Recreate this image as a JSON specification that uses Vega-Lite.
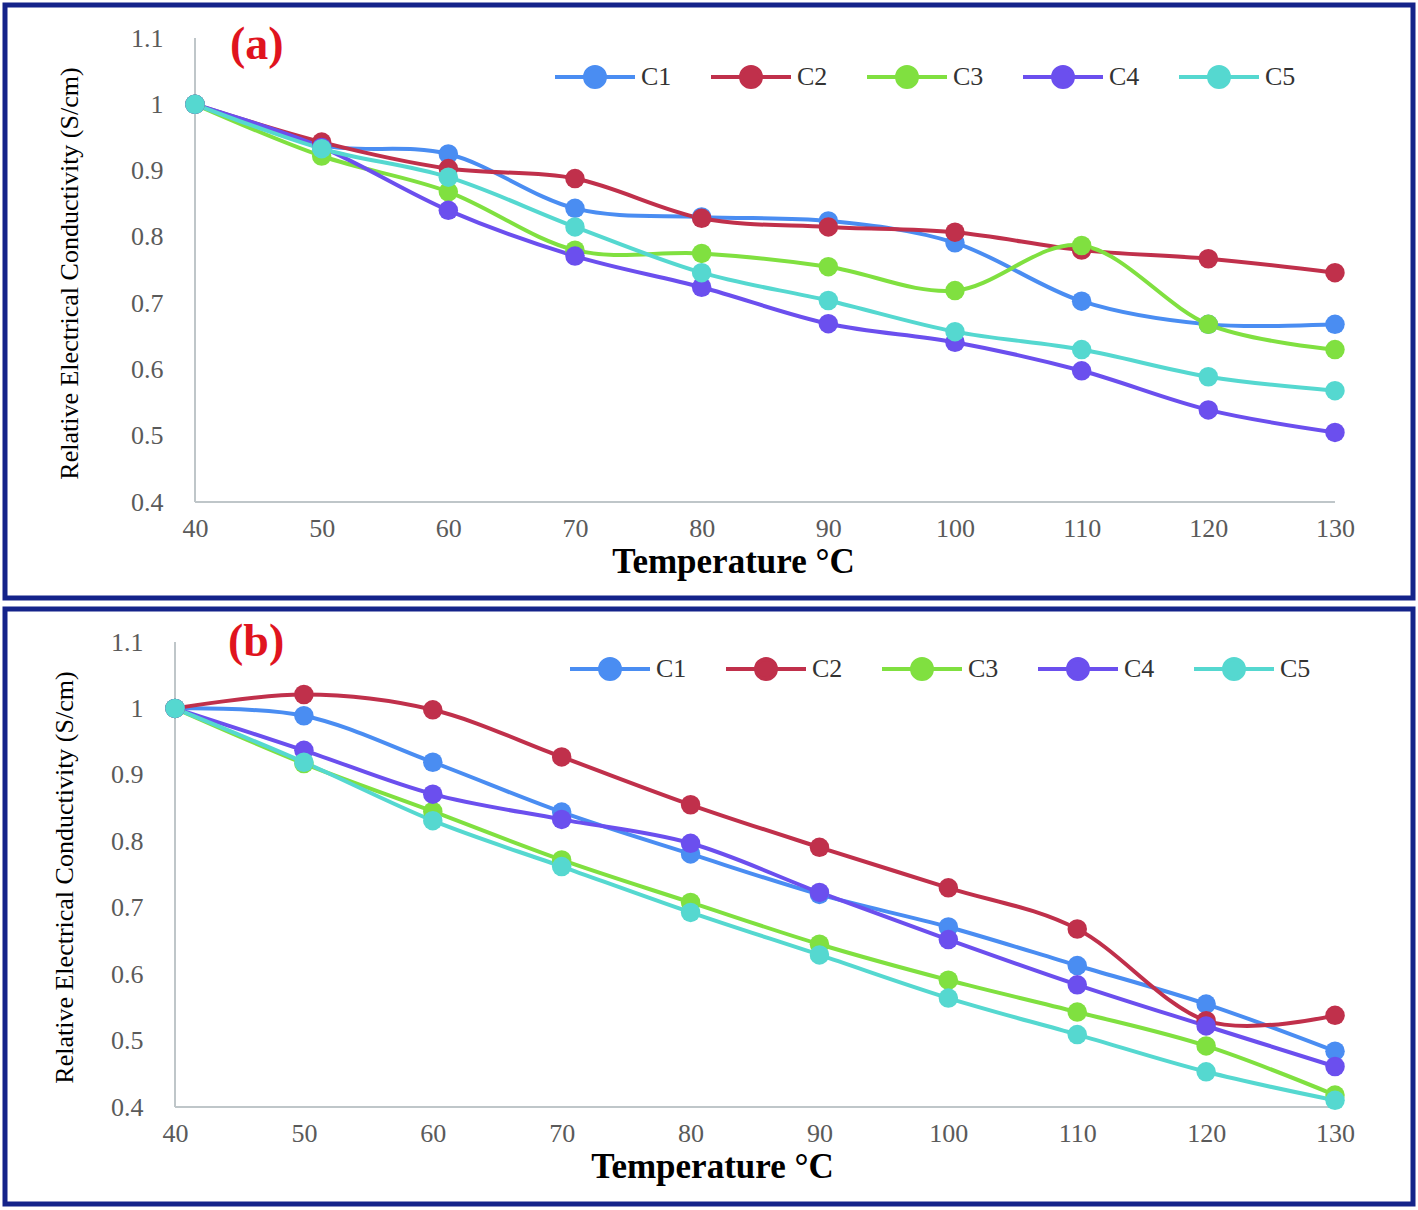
{
  "$schema": "https://vega.github.io/schema/vega-lite/v6.json",
  "background": "white",
  "padding": {"left": 2, "top": 2, "right": 2, "bottom": 2},
  "spacing": 5,
  "datasets": {
    "frame": [
      {"T": 40, "T2": 40, "value": 0.4, "value2": 1.1},
      {"T": 40, "T2": 130, "value": 0.4, "value2": 0.4}
    ],
    "a": [
      {"T": 40, "series": "C1", "value": 1}, {"T": 50, "series": "C1", "value": 0.938}, {"T": 60, "series": "C1", "value": 0.925}, {"T": 70, "series": "C1", "value": 0.843}, {"T": 80, "series": "C1", "value": 0.83}, {"T": 90, "series": "C1", "value": 0.824}, {"T": 100, "series": "C1", "value": 0.791}, {"T": 110, "series": "C1", "value": 0.703}, {"T": 120, "series": "C1", "value": 0.668}, {"T": 130, "series": "C1", "value": 0.668},
      {"T": 40, "series": "C2", "value": 1}, {"T": 50, "series": "C2", "value": 0.943}, {"T": 60, "series": "C2", "value": 0.903}, {"T": 70, "series": "C2", "value": 0.888}, {"T": 80, "series": "C2", "value": 0.828}, {"T": 90, "series": "C2", "value": 0.815}, {"T": 100, "series": "C2", "value": 0.807}, {"T": 110, "series": "C2", "value": 0.78}, {"T": 120, "series": "C2", "value": 0.767}, {"T": 130, "series": "C2", "value": 0.746},
      {"T": 40, "series": "C3", "value": 1}, {"T": 50, "series": "C3", "value": 0.922}, {"T": 60, "series": "C3", "value": 0.868}, {"T": 70, "series": "C3", "value": 0.78}, {"T": 80, "series": "C3", "value": 0.775}, {"T": 90, "series": "C3", "value": 0.755}, {"T": 100, "series": "C3", "value": 0.719}, {"T": 110, "series": "C3", "value": 0.787}, {"T": 120, "series": "C3", "value": 0.668}, {"T": 130, "series": "C3", "value": 0.63},
      {"T": 40, "series": "C4", "value": 1}, {"T": 50, "series": "C4", "value": 0.935}, {"T": 60, "series": "C4", "value": 0.84}, {"T": 70, "series": "C4", "value": 0.771}, {"T": 80, "series": "C4", "value": 0.724}, {"T": 90, "series": "C4", "value": 0.669}, {"T": 100, "series": "C4", "value": 0.641}, {"T": 110, "series": "C4", "value": 0.598}, {"T": 120, "series": "C4", "value": 0.539}, {"T": 130, "series": "C4", "value": 0.505},
      {"T": 40, "series": "C5", "value": 1}, {"T": 50, "series": "C5", "value": 0.933}, {"T": 60, "series": "C5", "value": 0.89}, {"T": 70, "series": "C5", "value": 0.815}, {"T": 80, "series": "C5", "value": 0.746}, {"T": 90, "series": "C5", "value": 0.704}, {"T": 100, "series": "C5", "value": 0.657}, {"T": 110, "series": "C5", "value": 0.63}, {"T": 120, "series": "C5", "value": 0.589}, {"T": 130, "series": "C5", "value": 0.568}
    ],
    "b": [
      {"T": 40, "series": "C1", "value": 1}, {"T": 50, "series": "C1", "value": 0.989}, {"T": 60, "series": "C1", "value": 0.919}, {"T": 70, "series": "C1", "value": 0.844}, {"T": 80, "series": "C1", "value": 0.781}, {"T": 90, "series": "C1", "value": 0.72}, {"T": 100, "series": "C1", "value": 0.671}, {"T": 110, "series": "C1", "value": 0.613}, {"T": 120, "series": "C1", "value": 0.555}, {"T": 130, "series": "C1", "value": 0.484},
      {"T": 40, "series": "C2", "value": 1}, {"T": 50, "series": "C2", "value": 1.021}, {"T": 60, "series": "C2", "value": 0.998}, {"T": 70, "series": "C2", "value": 0.927}, {"T": 80, "series": "C2", "value": 0.855}, {"T": 90, "series": "C2", "value": 0.791}, {"T": 100, "series": "C2", "value": 0.73}, {"T": 110, "series": "C2", "value": 0.668}, {"T": 120, "series": "C2", "value": 0.53}, {"T": 130, "series": "C2", "value": 0.538},
      {"T": 40, "series": "C3", "value": 1}, {"T": 50, "series": "C3", "value": 0.917}, {"T": 60, "series": "C3", "value": 0.845}, {"T": 70, "series": "C3", "value": 0.772}, {"T": 80, "series": "C3", "value": 0.708}, {"T": 90, "series": "C3", "value": 0.645}, {"T": 100, "series": "C3", "value": 0.591}, {"T": 110, "series": "C3", "value": 0.543}, {"T": 120, "series": "C3", "value": 0.492}, {"T": 130, "series": "C3", "value": 0.418},
      {"T": 40, "series": "C4", "value": 1}, {"T": 50, "series": "C4", "value": 0.937}, {"T": 60, "series": "C4", "value": 0.871}, {"T": 70, "series": "C4", "value": 0.833}, {"T": 80, "series": "C4", "value": 0.797}, {"T": 90, "series": "C4", "value": 0.723}, {"T": 100, "series": "C4", "value": 0.652}, {"T": 110, "series": "C4", "value": 0.584}, {"T": 120, "series": "C4", "value": 0.522}, {"T": 130, "series": "C4", "value": 0.461},
      {"T": 40, "series": "C5", "value": 1}, {"T": 50, "series": "C5", "value": 0.919}, {"T": 60, "series": "C5", "value": 0.831}, {"T": 70, "series": "C5", "value": 0.762}, {"T": 80, "series": "C5", "value": 0.693}, {"T": 90, "series": "C5", "value": 0.629}, {"T": 100, "series": "C5", "value": 0.564}, {"T": 110, "series": "C5", "value": 0.509}, {"T": 120, "series": "C5", "value": 0.453}, {"T": 130, "series": "C5", "value": 0.41}
    ]
  },
  "vconcat": [
    {
      "width": 1408,
      "height": 593,
      "layer": [
        {
          "data": {"name": "frame"},
          "mark": {"type": "rule", "color": "#BFC6C9", "strokeWidth": 2},
          "encoding": {
            "x": {
              "field": "T", "type": "quantitative",
              "scale": {"domain": [25, 136.16], "nice": false, "zero": false},
              "axis": {"orient": "bottom", "offset": -96, "values": [40, 50, 60, 70, 80, 90, 100, 110, 120, 130], "format": "d", "labelPadding": 13, "title": "Temperature °C", "titleX": 728, "titleY": 70}
            },
            "y": {
              "field": "value", "type": "quantitative",
              "scale": {"domain": [0.2552, 1.1498], "nice": false, "zero": false},
              "axis": {"orient": "left", "offset": -190, "values": [0.4, 0.5, 0.6, 0.7, 0.8, 0.9, 1, 1.1], "format": ".2~f", "labelPadding": 32, "title": "Relative Electrical Conductivity (S/cm)", "titleX": -126, "titleY": 268}
            },
            "x2": {"field": "T2"},
            "y2": {"field": "value2"}
          }
        },
        {
          "data": {"name": "a"},
          "mark": {"type": "line", "interpolate": "cardinal", "strokeWidth": 4},
          "encoding": {
            "x": {"field": "T", "type": "quantitative"},
            "y": {"field": "value", "type": "quantitative"},
            "color": {"field": "series", "type": "nominal", "scale": {"domain": ["C1", "C2", "C3", "C4", "C5"], "range": ["#4A8DF2", "#C0304B", "#80E040", "#6B4FEE", "#55D8D0"]},
              "legend": {"legendX": 548, "legendY": 30}}
          }
        },
        {
          "data": {"name": "a"},
          "mark": {"type": "point", "filled": true, "size": 380, "opacity": 1},
          "encoding": {
            "x": {"field": "T", "type": "quantitative"},
            "y": {"field": "value", "type": "quantitative"},
            "color": {"field": "series", "type": "nominal", "scale": {"domain": ["C1", "C2", "C3", "C4", "C5"], "range": ["#4A8DF2", "#C0304B", "#80E040", "#6B4FEE", "#55D8D0"]},
              "legend": {"legendX": 548, "legendY": 30}}
          }
        },
        {
          "data": {"values": [{"panel": "(a)"}]},
          "mark": {"type": "text", "align": "left", "baseline": "alphabetic", "font": "Liberation Serif", "fontSize": 46, "fontWeight": "bold", "color": "#E0141E"},
          "encoding": {
            "x": {"datum": 42.76, "type": "quantitative"},
            "y": {"datum": 1.0683, "type": "quantitative"},
            "text": {"field": "panel", "type": "nominal"}
          }
        }
      ]
    },
    {
      "width": 1408,
      "height": 595,
      "layer": [
        {
          "data": {"name": "frame"},
          "mark": {"type": "rule", "color": "#BFC6C9", "strokeWidth": 2},
          "encoding": {
            "x": {
              "field": "T", "type": "quantitative",
              "scale": {"domain": [26.81, 136.05], "nice": false, "zero": false},
              "axis": {"orient": "bottom", "offset": -97, "values": [40, 50, 60, 70, 80, 90, 100, 110, 120, 130], "format": "d", "labelPadding": 13, "title": "Temperature °C", "titleX": 707, "titleY": 70}
            },
            "y": {
              "field": "value", "type": "quantitative",
              "scale": {"domain": [0.254, 1.1497], "nice": false, "zero": false},
              "axis": {"orient": "left", "offset": -170, "values": [0.4, 0.5, 0.6, 0.7, 0.8, 0.9, 1, 1.1], "format": ".2~f", "labelPadding": 32, "title": "Relative Electrical Conductivity (S/cm)", "titleX": -111, "titleY": 268}
            },
            "x2": {"field": "T2"},
            "y2": {"field": "value2"}
          }
        },
        {
          "data": {"name": "b"},
          "mark": {"type": "line", "interpolate": "cardinal", "strokeWidth": 4},
          "encoding": {
            "x": {"field": "T", "type": "quantitative"},
            "y": {"field": "value", "type": "quantitative"},
            "color": {"field": "series", "type": "nominal", "scale": {"domain": ["C1", "C2", "C3", "C4", "C5"], "range": ["#4A8DF2", "#C0304B", "#80E040", "#6B4FEE", "#55D8D0"]},
              "legend": {"legendX": 563, "legendY": 18}}
          }
        },
        {
          "data": {"name": "b"},
          "mark": {"type": "point", "filled": true, "size": 380, "opacity": 1},
          "encoding": {
            "x": {"field": "T", "type": "quantitative"},
            "y": {"field": "value", "type": "quantitative"},
            "color": {"field": "series", "type": "nominal", "scale": {"domain": ["C1", "C2", "C3", "C4", "C5"], "range": ["#4A8DF2", "#C0304B", "#80E040", "#6B4FEE", "#55D8D0"]},
              "legend": {"legendX": 563, "legendY": 18}}
          }
        },
        {
          "data": {"values": [{"panel": "(b)"}]},
          "mark": {"type": "text", "align": "left", "baseline": "alphabetic", "font": "Liberation Serif", "fontSize": 46, "fontWeight": "bold", "color": "#E0141E"},
          "encoding": {
            "x": {"datum": 44.11, "type": "quantitative"},
            "y": {"datum": 1.079, "type": "quantitative"},
            "text": {"field": "panel", "type": "nominal"}
          }
        }
      ]
    }
  ],
  "resolve": {"scale": {"x": "independent", "y": "independent", "color": "independent"}, "legend": {"color": "independent"}},
  "config": {
    "font": "Liberation Serif",
    "view": {"stroke": "#14238A", "strokeWidth": 5},
    "axis": {
      "grid": false, "domain": false, "ticks": false, "tickSize": 0,
      "labelFont": "Liberation Serif", "labelFontSize": 26, "labelColor": "#5A5A5A",
      "titleFont": "Liberation Serif", "titleColor": "#000000"
    },
    "axisX": {"titleFontSize": 35, "titleFontWeight": "bold", "titleBaseline": "alphabetic"},
    "axisY": {"titleFontSize": 26, "titleFontWeight": "normal", "titleAngle": -90, "titleBaseline": "middle", "titleAlign": "center"},
    "legend": {
      "orient": "none", "direction": "horizontal", "columns": 5, "title": null, "padding": 0,
      "symbolType": "M-1,0L1,0M0.25,0A0.25,0.25,0,1,1,-0.25,0A0.25,0.25,0,1,1,0.25,0",
      "symbolSize": 6400, "symbolStrokeWidth": 4, "symbolOpacity": 1,
      "labelFont": "Liberation Serif", "labelFontSize": 26, "labelColor": "#333333", "labelOffset": 4,
      "columnPadding": 31
    }
  }
}
